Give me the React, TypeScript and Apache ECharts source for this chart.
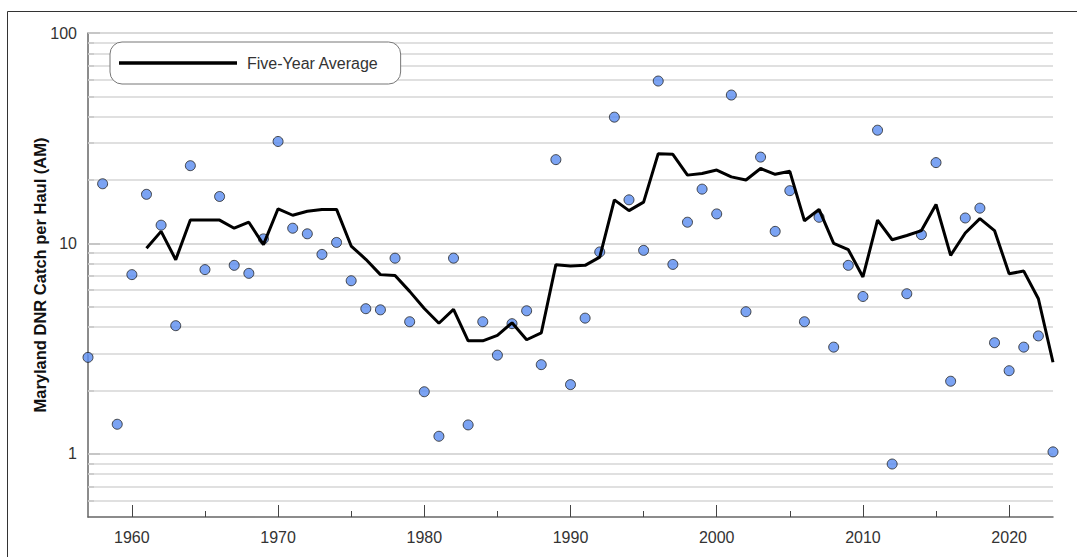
import React, { useEffect, useRef } from "react";
import * as echarts from "echarts";

const years = [
  1957, 1958, 1959, 1960, 1961, 1962, 1963, 1964, 1965, 1966,
  1967, 1968, 1969, 1970, 1971, 1972, 1973, 1974, 1975, 1976,
  1977, 1978, 1979, 1980, 1981, 1982, 1983, 1984, 1985, 1986,
  1987, 1988, 1989, 1990, 1991, 1992, 1993, 1994, 1995, 1996,
  1997, 1998, 1999, 2000, 2001, 2002, 2003, 2004, 2005, 2006,
  2007, 2008, 2009, 2010, 2011, 2012, 2013, 2014, 2015, 2016,
  2017, 2018, 2019, 2020, 2021, 2022, 2023,
];

const annualCatch = [
  2.87, 19.2, 1.38, 7.1, 17.1, 12.2, 4.06, 23.4, 7.5, 16.7,
  7.86, 7.2, 10.5, 30.5, 11.8, 11.1, 8.86, 10.1, 6.64, 4.89,
  4.83, 8.5, 4.24, 1.97, 1.21, 8.5, 1.37, 4.24, 2.94, 4.15,
  4.78, 2.65, 25.0, 2.13, 4.41, 9.1, 39.8, 16.1, 9.26, 59.1,
  7.94, 12.6, 18.1, 13.8, 50.7, 4.73, 25.7, 11.4, 17.8, 4.24,
  13.3, 3.21, 7.86, 5.59, 34.5, 0.893, 5.76, 11.0, 24.2, 2.21,
  13.2, 14.7, 3.37, 2.48, 3.21, 3.63, 1.02,
];

const avgYears = [
  1961, 1962, 1963, 1964, 1965, 1966, 1967, 1968, 1969, 1970,
  1971, 1972, 1973, 1974, 1975, 1976, 1977, 1978, 1979, 1980,
  1981, 1982, 1983, 1984, 1985, 1986, 1987, 1988, 1989, 1990,
  1991, 1992, 1993, 1994, 1995, 1996, 1997, 1998, 1999, 2000,
  2001, 2002, 2003, 2004, 2005, 2006, 2007, 2008, 2009, 2010,
  2011, 2012, 2013, 2014, 2015, 2016, 2017, 2018, 2019, 2020,
  2021, 2022, 2023,
];

const fiveYearAverage = [
  9.47, 11.4, 8.36, 12.9, 12.9, 12.9, 11.8, 12.6, 9.86, 14.6,
  13.6, 14.2, 14.5, 14.5, 9.71, 8.4, 7.1, 7.04, 5.91, 4.9,
  4.17, 4.85, 3.44, 3.44, 3.65, 4.19, 3.48, 3.75, 7.92, 7.8,
  7.86, 8.6, 16.1, 14.3, 15.7, 26.7, 26.5, 21.1, 21.5, 22.3,
  20.7, 20.0, 22.7, 21.3, 22.0, 12.8, 14.5, 10.0, 9.33, 6.92,
  12.9, 10.4, 10.9, 11.5, 15.3, 8.77, 11.2, 13.1, 11.5, 7.17,
  7.38, 5.45, 2.72,
];

const xMajorTicks = [1960, 1970, 1980, 1990, 2000, 2010, 2020];
const xMinorTicks = [1965, 1975, 1985, 1995, 2005, 2015];
const yMajorTicks = [1, 10, 100];
const yMinorTicks = [
  0.6, 0.7, 0.8, 0.9,
  2, 3, 4, 5, 6, 7, 8, 9,
  20, 30, 40, 50, 60, 70, 80, 90,
];

const FONT = "'Liberation Sans', Arial, sans-serif";

export default function App() {
  const ref = useRef<HTMLDivElement>(null);

  useEffect(() => {
    if (!ref.current) return;
    const chart = echarts.init(ref.current, null, { renderer: "svg" });

    const gridLines = [
      ...yMinorTicks.map((v) => ({
        yAxis: v,
        lineStyle: { color: "#d6d6d6", width: 1.5, type: "solid" },
      })),
      ...yMajorTicks.map((v) => ({
        yAxis: v,
        lineStyle: { color: "#cccccc", width: 1.5, type: "solid" },
      })),
    ];

    chart.setOption({
      animation: false,
      backgroundColor: "#ffffff",
      textStyle: { fontFamily: FONT },
      graphic: [
        {
          type: "rect",
          left: 5,
          top: 9,
          shape: { width: 1100, height: 600 },
          style: { fill: "none", stroke: "#333333", lineWidth: 1 },
          silent: true,
          z: 0,
        },
      ],
      grid: { left: 88, right: 24, top: 33, bottom: 40 },
      legend: {
        left: 110,
        top: 42,
        orient: "horizontal",
        data: [{ name: "Five-Year Average", icon: "rect" }],
        itemWidth: 118,
        itemHeight: 3.5,
        padding: [13, 22, 13, 9],
        borderColor: "#777777",
        borderWidth: 1,
        borderRadius: 12,
        backgroundColor: "#ffffff",
        z: 10,
        textStyle: {
          fontFamily: FONT,
          fontSize: 16,
          color: "#333333",
          padding: [0, 0, 0, 5],
        },
      },
      xAxis: [
        {
          type: "value",
          min: 1957,
          max: 2023,
          axisLine: { show: true, lineStyle: { color: "#666666", width: 1.5 } },
          axisTick: {
            show: true,
            inside: true,
            length: 12,
            customValues: xMajorTicks,
            lineStyle: { color: "#444444", width: 1 },
          },
          axisLabel: {
            customValues: xMajorTicks,
            formatter: (v: number) => String(v),
            fontSize: 16,
            color: "#333333",
            margin: 12,
            fontFamily: FONT,
          },
          splitLine: { show: false },
        },
        {
          type: "value",
          min: 1957,
          max: 2023,
          position: "bottom",
          axisLine: { show: false },
          axisTick: {
            show: true,
            inside: true,
            length: 6,
            customValues: xMinorTicks,
            lineStyle: { color: "#444444", width: 1 },
          },
          axisLabel: { show: false },
          splitLine: { show: false },
        },
      ],
      yAxis: [
        {
          type: "log",
          logBase: 10,
          min: 0.5,
          max: 100,
          name: "Maryland DNR Catch per Haul (AM)",
          nameLocation: "middle",
          nameGap: 40,
          nameMoveOverlap: false,
          nameTextStyle: {
            fontFamily: FONT,
            fontSize: 16.5,
            fontWeight: "bold",
            color: "#111111",
          },
          axisLine: { show: true, lineStyle: { color: "#666666", width: 1.5 } },
          axisTick: {
            show: true,
            inside: true,
            length: 12,
            customValues: yMajorTicks,
            lineStyle: { color: "#999999", width: 1.5 },
          },
          axisLabel: {
            customValues: yMajorTicks,
            fontSize: 16,
            color: "#333333",
            margin: 11,
            fontFamily: FONT,
          },
          splitLine: { show: false },
        },
        {
          type: "log",
          logBase: 10,
          min: 0.5,
          max: 100,
          position: "left",
          axisLine: { show: false },
          axisTick: {
            show: true,
            inside: true,
            length: 6,
            customValues: yMinorTicks,
            lineStyle: { color: "#999999", width: 1.5 },
          },
          axisLabel: { show: false },
          splitLine: { show: false },
        },
      ],
      series: [
        {
          name: "grid",
          type: "line",
          data: [],
          xAxisIndex: 0,
          yAxisIndex: 0,
          silent: true,
          z: 1,
          markLine: {
            silent: true,
            z: 1,
            symbol: ["none", "none"],
            label: { show: false },
            data: gridLines,
          },
        },
        {
          name: "Annual",
          type: "scatter",
          xAxisIndex: 0,
          yAxisIndex: 0,
          data: years.map((y, i) => [y, annualCatch[i]]),
          symbol: "circle",
          symbolSize: 10,
          itemStyle: { color: "#5a8cf0", borderColor: "#222222", borderWidth: 1 },
          z: 2,
        },
        {
          name: "Five-Year Average",
          type: "line",
          xAxisIndex: 0,
          yAxisIndex: 0,
          data: avgYears.map((y, i) => [y, fiveYearAverage[i]]),
          symbol: "none",
          showSymbol: false,
          lineStyle: { color: "#000000", width: 3 },
          itemStyle: { color: "#000000" },
          z: 3,
        },
      ],
    });

    return () => chart.dispose();
  }, []);

  return (
    <div
      ref={ref}
      style={{ position: "fixed", left: 0, top: 0, width: 1077, height: 557 }}
    />
  );
}
